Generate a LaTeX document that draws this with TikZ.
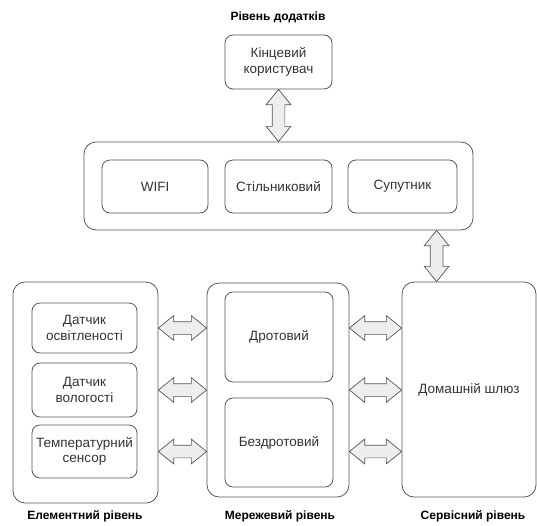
\documentclass[tikz,border=0pt]{standalone}
\usepackage{fontspec}
\setmainfont{Liberation Sans}
\usetikzlibrary{calc,shapes.arrows}

\definecolor{lineclr}{HTML}{555555}
\definecolor{textclr}{HTML}{333333}
\definecolor{arrowfill}{HTML}{EEEEEE}

\tikzset{
  layer/.style={draw=lineclr, line width=0.8pt, rounded corners=12pt, inner sep=0pt},
  unit/.style={draw=lineclr, line width=0.8pt, rounded corners=8pt, inner sep=0pt,
    align=center, text=textclr, font=\fontsize{13.5}{15.5}\selectfont},
  title/.style={font=\bfseries\fontsize{12}{14}\selectfont, text=black},
  dblarrow/.style={double arrow, draw=lineclr, fill=arrowfill, line width=0.7pt,
    inner xsep=0pt, inner ysep=6pt, minimum width=24pt, double arrow head extend=6pt,
    double arrow tip angle=78},
}

% подвійна стрілка між двома точками
\newcommand{\biarrow}[2]{%
  \path let \p1=(#1), \p2=(#2), \n1={veclen(\x2-\x1,\y2-\y1)} in
    (#1) -- (#2) node[midway, sloped, dblarrow, minimum height=\n1] {};}

\begin{document}
\begin{tikzpicture}[x=1pt, y=-1pt]
    \useasboundingbox (0,0) rectangle (537,525);

    % -- Рівень додатків --
    \node[title] (tapp) at (278,17) {Рівень додатків};
    \node[unit, minimum width=107pt, minimum height=54pt] (user) at (278.5,62) {Кінцевий\\користувач};

    % -- Канали зв'язку --
    \node[layer, minimum width=389pt, minimum height=88pt] (net) at (278.5,186) {};
    \node[unit, minimum width=106pt, minimum height=53pt] (wifi) at (155,186.5) {WIFI};
    \node[unit, minimum width=107pt, minimum height=53pt] (cell) at (278.5,186.5) {Стільниковий};
    \node[unit, minimum width=109pt, minimum height=53pt] (sat) at (402.5,186.5) {Супутник};

    % -- Елементний рівень --
    \node[layer, minimum width=145pt, minimum height=221pt] (elem) at (85.5,392.5) {};
    \node[unit, minimum width=105pt, minimum height=50pt] (s1) at (84.5,328) {Датчик\\освітленості};
    \node[unit, minimum width=105pt, minimum height=54pt] (s2) at (84.5,390) {Датчик\\вологості};
    \node[unit, minimum width=105pt, minimum height=53pt] (s3) at (84.5,451.5) {Температурний\\сенсор};

    % -- Мережевий рівень --
    \node[layer, minimum width=142pt, minimum height=214pt] (mesh) at (278,390) {};
    \node[unit, minimum width=108pt, minimum height=90pt] (wired) at (279,337) {Дротовий};
    \node[unit, minimum width=108pt, minimum height=89pt] (wless) at (279,442.5) {Бездротовий};

    % -- Сервісний рівень --
    \node[unit, rounded corners=12pt, minimum width=134pt, minimum height=215pt] (gw) at (469,389.5) {Домашній шлюз};
    \coordinate (gwin) at ([xshift=35pt]gw.north west);

    % Підписи рівнів
    \node[title] (telem) at (85,516) {Елементний рівень};
    \node[title] (tmesh) at (280,516) {Мережевий рівень};
    \node[title] (tserv) at (473,516) {Сервісний рівень};

    % Стрілки
    \biarrow{user.south}{net.north}
    \biarrow{net.south -| gwin}{gwin}
    \foreach \s in {s1,s2,s3} {
        \biarrow{elem.east |- \s}{mesh.west |- \s}
        \biarrow{mesh.east |- \s}{gw.west |- \s}
    }
\end{tikzpicture}
\end{document}
